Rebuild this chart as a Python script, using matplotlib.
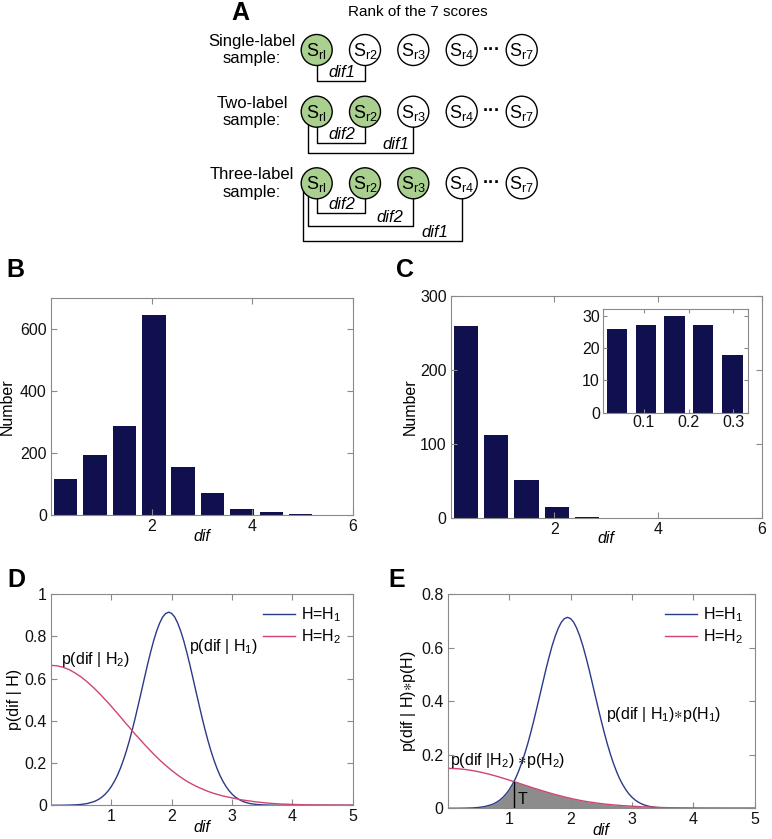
import numpy as np
import matplotlib
matplotlib.use("Agg")
import matplotlib.pyplot as plt
from matplotlib.patches import Circle

plt.rcParams['font.family'] = ['Liberation Sans', 'DejaVu Sans']
plt.rcParams['mathtext.default'] = 'regular'

# ---- data ----
# panel A
row_labels = ['Single-label\nsample:', 'Two-label\nsample:', 'Three-label\nsample:']
n_true = [1, 2, 3]
score_names = ['rl', 'r2', 'r3', 'r4', 'r7']

# panel B / C histograms (bins of width ~0.584 over dif)
bin_centers = [0.292, 0.876, 1.46, 2.044, 2.628, 3.212, 3.796, 4.38, 4.964, 5.548]
counts_b = [115, 192, 288, 645, 154, 71, 20, 10, 4, 1]
counts_c = [260, 112, 51, 14, 1, 0, 0, 0, 0, 0]
inset_centers = [0.041, 0.105, 0.169, 0.233, 0.298]
inset_counts = [26, 27, 30, 27, 18]

# panel D / E curves
dif = [0.0, 0.1, 0.2, 0.3, 0.4, 0.5, 0.6, 0.7,
       0.75, 0.8, 0.85, 0.9, 0.95, 1.0, 1.05, 1.1, 1.15, 1.2, 1.25, 1.3,
       1.35, 1.4, 1.45, 1.5, 1.55, 1.6, 1.65, 1.7, 1.75, 1.8, 1.85, 1.9,
       1.95, 2.0, 2.05, 2.1, 2.15, 2.2, 2.25, 2.3, 2.35, 2.4, 2.45, 2.5,
       2.55, 2.6, 2.65, 2.7, 2.75, 2.8, 2.85, 2.9, 2.95, 3.0, 3.05, 3.1,
       3.15, 3.2, 3.25, 3.3,
       3.4, 3.5, 3.6, 3.7, 3.8, 3.9, 4.0, 4.2, 4.4, 4.6, 4.8, 5.0]
p_h1 = [0.0, 0.0, 0.0003, 0.0008, 0.0018, 0.004, 0.0082, 0.0162,
        0.022, 0.030, 0.040, 0.053, 0.069, 0.089, 0.113, 0.141, 0.175, 0.214, 0.258, 0.307,
        0.361, 0.419, 0.480, 0.542, 0.605, 0.667, 0.725, 0.779, 0.825, 0.863, 0.892, 0.909,
        0.915, 0.909, 0.892, 0.863, 0.825, 0.779, 0.725, 0.667, 0.605, 0.542, 0.480, 0.419,
        0.361, 0.307, 0.258, 0.214, 0.175, 0.141, 0.113, 0.089, 0.069, 0.053, 0.040, 0.030,
        0.022, 0.016, 0.0116, 0.008,
        0.004, 0.002, 0.0008, 0.0003, 0.0001, 0.0, 0.0, 0.0, 0.0, 0.0, 0.0, 0.0]
p_h2 = [0.663, 0.661, 0.654, 0.643, 0.627, 0.608, 0.585, 0.559,
        0.545, 0.531, 0.516, 0.500, 0.485, 0.469, 0.452, 0.436, 0.419, 0.402, 0.385, 0.369,
        0.352, 0.335, 0.320, 0.304, 0.288, 0.273, 0.258, 0.243, 0.229, 0.215, 0.202, 0.189,
        0.177, 0.165, 0.154, 0.143, 0.133, 0.123, 0.114, 0.106, 0.098, 0.091, 0.084, 0.078,
        0.072, 0.066, 0.061, 0.056, 0.052, 0.048, 0.044, 0.041, 0.038, 0.035, 0.032, 0.029,
        0.026, 0.024, 0.022, 0.020,
        0.016, 0.013, 0.010, 0.008, 0.006, 0.005, 0.004, 0.0025, 0.0015, 0.001, 0.0005, 0.0]
prior_h1 = 0.78
prior_h2 = 0.225
T_x, T_y = 1.08, 0.10

bar_color = '#10104e'
blue = '#2b3a88'
red = '#d0456e'
frame = '#8a8a8a'
fs = 11.5


def style(ax):
    for s in ax.spines.values():
        s.set_color(frame)
        s.set_linewidth(0.8)
    ax.tick_params(direction='in', top=True, right=True, length=4, width=0.8,
                   color=frame, labelsize=fs, labelcolor='#111111', pad=3)


fig = plt.figure(figsize=(7.72, 8.39), dpi=100)

# ---- A: schematic in pixel coordinates ----
axa = fig.add_axes([0, 1 - 250 / 839, 1, 250 / 839])
axa.set_xlim(0, 772)
axa.set_ylim(250, 0)
axa.axis('off')
col_x = [316.7, 365, 413.3, 461.7, 521.7]
row_y = [50, 111.7, 183.3]
r = 15.5
axa.text(418, 12, 'Rank of the 7 scores', ha='center', va='center', fontsize=11)
for lab, n, y in zip(row_labels, n_true, row_y):
    axa.text(252, y, lab, ha='center', va='center', fontsize=12, linespacing=1.2)
    for i, (x, nm) in enumerate(zip(col_x, score_names)):
        fc = '#a9d08e' if i < n else 'white'
        axa.add_patch(Circle((x, y), r, fc=fc, ec='black', lw=1.0))
        axa.text(x, y + 1, 'S$_{' + nm + '}$', ha='center', va='center', fontsize=13)
    axa.text(491.7, y, '···', ha='center', va='center', fontsize=13, fontweight='bold')


def bracket(x0, y0, x1, y1, yb, label, lx):
    axa.plot([x0, x0, x1, x1], [y0, yb, yb, y1], color='black', lw=1.0)
    axa.text(lx, yb - 1, label, ha='center', va='bottom', fontsize=12, style='italic')


bracket(col_x[0], row_y[0] + r, col_x[1], row_y[0] + r, 80.7, 'dif1', 341.7)
bracket(col_x[0], row_y[1] + r, col_x[1], row_y[1] + r, 142.7, 'dif2', 341.7)
bracket(308.3, row_y[1] + 13, col_x[2], row_y[1] + r, 152.7, 'dif1', 396)
bracket(col_x[0], row_y[2] + r, col_x[1], row_y[2] + r, 213.3, 'dif2', 341.7)
bracket(308.3, row_y[2] + 13, col_x[2], row_y[2] + r, 225.7, 'dif2', 390)
bracket(303.3, row_y[2] + 7.8, col_x[3], row_y[2] + r, 240.7, 'dif1', 435)

# ---- B ----
axb = fig.add_axes([0.066, 0.386, 0.391, 0.2594])
axb.bar(bin_centers, counts_b, width=0.467, color=bar_color)
axb.set_xlim(0, 6)
axb.set_ylim(0, 700)
axb.set_xticks([2, 4, 6])
axb.set_yticks([0, 200, 400, 600])
axb.set_ylabel('Number', fontsize=fs)
axb.set_xlabel('dif', fontsize=fs, style='italic', labelpad=-4)
style(axb)

# ---- C ----
axc = fig.add_axes([0.584, 0.383, 0.4025, 0.2642])
axc.bar(bin_centers, counts_c, width=0.467, color=bar_color)
axc.set_xlim(0, 6)
axc.set_ylim(0, 300)
axc.set_xticks([2, 4, 6])
axc.set_yticks([0, 100, 200, 300])
axc.set_ylabel('Number', fontsize=fs, labelpad=2)
axc.set_xlabel('dif', fontsize=fs, style='italic', labelpad=-4)
style(axc)

axi = fig.add_axes([0.7807, 0.5081, 0.1886, 0.1232])
axi.bar(inset_centers, inset_counts, width=0.045, color=bar_color)
axi.set_xlim(0.009, 0.333)
axi.set_ylim(0, 32)
axi.set_xticks([0.1, 0.2, 0.3])
axi.set_yticks([0, 10, 20, 30])
style(axi)
axi.tick_params(length=3, pad=2)

# ---- D ----
x = np.array(dif)
h1 = np.array(p_h1)
h2 = np.array(p_h2)
axd = fig.add_axes([0.066, 0.0402, 0.391, 0.2515])
axd.plot(x, h1, color=blue, lw=1.0, label='H=H$_1$')
axd.plot(x, h2, color=red, lw=1.0, label='H=H$_2$')
axd.set_xlim(0, 5)
axd.set_ylim(0, 1)
axd.set_xticks([1, 2, 3, 4, 5])
axd.set_yticks([0, 0.2, 0.4, 0.6, 0.8, 1])
axd.set_yticklabels(['0', '0.2', '0.4', '0.6', '0.8', '1'])
axd.set_ylabel('p(dif | H)', fontsize=fs, labelpad=2)
axd.set_xlabel('dif', fontsize=fs, style='italic', labelpad=-3)
axd.text(0.17, 0.69, 'p(dif | H$_2$)', fontsize=fs, va='center')
axd.text(2.29, 0.753, 'p(dif | H$_1$)', fontsize=fs, va='center')
axd.legend(loc='upper right', frameon=False, fontsize=fs, handlelength=2.0,
           handletextpad=0.4, labelspacing=0.2, borderaxespad=0.3)
style(axd)

# ---- E ----
h1e = h1 * prior_h1
h2e = h2 * prior_h2
axe = fig.add_axes([0.580, 0.0366, 0.3977, 0.2551])
axe.fill_between(x, 0, np.minimum(h1e, h2e), color='#8c8c8c', lw=0)
axe.plot(x, h1e, color=blue, lw=1.0, label='H=H$_1$')
axe.plot(x, h2e, color=red, lw=1.0, label='H=H$_2$')
axe.plot([T_x, T_x], [0, T_y], color='black', lw=1.0)
axe.text(T_x + 0.06, 0.004, 'T', fontsize=fs, va='bottom')
axe.set_xlim(0, 5)
axe.set_ylim(0, 0.8)
axe.set_xticks([1, 2, 3, 4, 5])
axe.set_yticks([0, 0.2, 0.4, 0.6, 0.8])
axe.set_yticklabels(['0', '0.2', '0.4', '0.6', '0.8'])
axe.set_ylabel(r'p(dif | H)$\ast$p(H)', fontsize=fs, labelpad=2)
axe.set_xlabel('dif', fontsize=fs, style='italic', labelpad=-3)
axe.text(0.035, 0.18, r'p(dif |H$_2$) $\ast$p(H$_2$)', fontsize=fs, va='center')
axe.text(2.575, 0.349, r'p(dif | H$_1$)$\ast$p(H$_1$)', fontsize=fs, va='center')
axe.legend(loc='upper right', frameon=False, fontsize=fs, handlelength=2.0,
           handletextpad=0.4, labelspacing=0.2, borderaxespad=0.3)
style(axe)

# panel letters
for lab, px, py in [('A', 240, 13), ('B', 15, 270), ('C', 405, 270), ('D', 16, 580), ('E', 397, 580)]:
    fig.text(px / 772, 1 - py / 839, lab, fontsize=18, fontweight='bold',
             ha='center', va='center')

fig.savefig('out.png', dpi=100)
